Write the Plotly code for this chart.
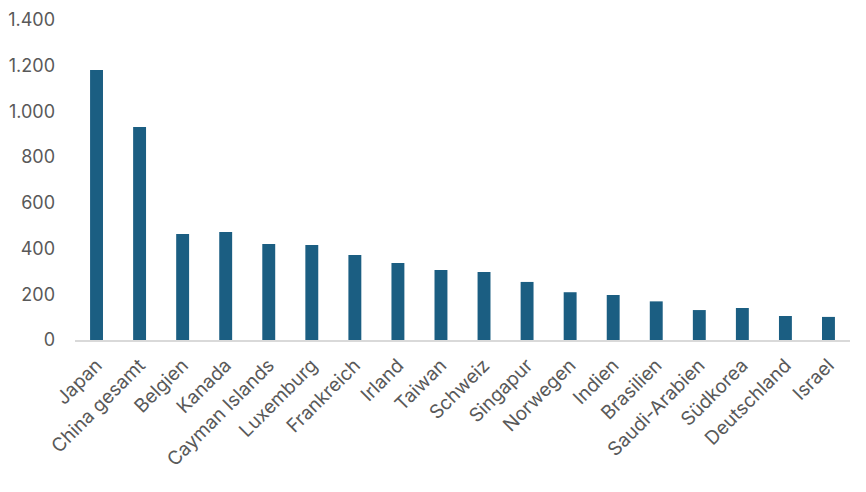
import plotly.graph_objects as go

countries = ["Japan", "China gesamt", "Belgien", "Kanada", "Cayman Islands", "Luxemburg",
             "Frankreich", "Irland", "Taiwan", "Schweiz", "Singapur", "Norwegen", "Indien",
             "Brasilien", "Saudi-Arabien", "Südkorea", "Deutschland", "Israel"]
values = [1181, 932, 464, 472, 420, 416, 372, 337, 306, 297, 254, 209, 197, 169, 131, 140, 105, 101]
tick_vals = [0, 200, 400, 600, 800, 1000, 1200, 1400]
tick_text = ["0", "200", "400", "600", "800", "1.000", "1.200", "1.400"]

fig = go.Figure(go.Bar(x=countries, y=values, marker=dict(color="#1b5e82", line=dict(width=0)),
                       width=0.3))
fig.update_layout(
    width=866, height=492,
    margin=dict(l=67, r=24, t=12, b=160, autoexpand=False),
    plot_bgcolor="white", paper_bgcolor="white",
    font=dict(family="Inter, Liberation Sans, Arial, sans-serif", size=18, color="#595959"),
    showlegend=False,
)
fig.update_yaxes(range=[0, 1400], tickvals=tick_vals, ticktext=tick_text, showgrid=False,
                 zeroline=False, showline=False, ticks="", ticklabelstandoff=19,
                 tickfont=dict(size=18), automargin=False)
fig.update_xaxes(tickangle=-45, showline=True, linecolor="#d9d9d9", linewidth=1.5,
                 showgrid=False, ticks="", tickfont=dict(size=19), automargin=False,
                 ticklabelstandoff=5)
fig.write_html("out.html")
